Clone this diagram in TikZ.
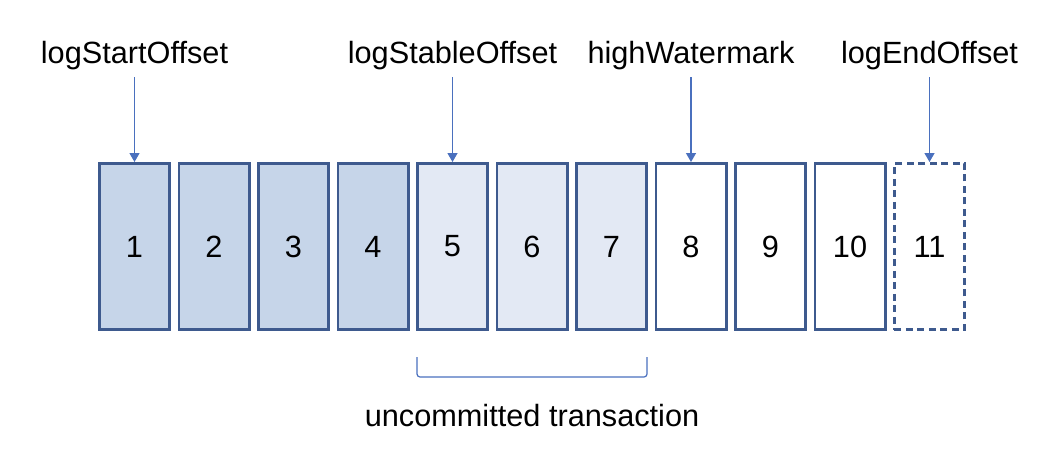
\documentclass[tikz,border=0pt]{standalone}
\usepackage{fontspec}
\setmainfont{Liberation Sans}
\usetikzlibrary{calc,arrows.meta}
\definecolor{edge}{HTML}{3E5A8E}
\definecolor{done}{HTML}{C6D5E9}
\definecolor{open}{HTML}{E3E9F4}
\definecolor{ptr}{HTML}{4A70BE}
\tikzset{
  cell/.style={draw=edge, line width=2.8pt, minimum width=70.2pt, minimum height=166.2pt, inner sep=0pt, font=\fontsize{30.7}{36}\selectfont},
  cellc/.style={cell, fill=done},
  cellu/.style={cell, fill=open},
  cellf/.style={cell, fill=white},
  celln/.style={cell, dash pattern=on 7pt off 4.5pt},
  lab/.style={font=\fontsize{30.7}{36}\selectfont, anchor=base, inner sep=0pt},
  ptrline/.style={draw=ptr, line width=1.3pt, shorten <=7.5pt, -{Triangle[length=9pt,width=10pt]}},
  brk/.style={draw=ptr, line width=1.2pt, rounded corners=3pt},
}

\begin{document}
\begin{tikzpicture}[x=1pt,y=-1pt]
  \useasboundingbox (0,0) rectangle (1064,456);
  \def\yc{246.5}

  % log segments
  \node[cellc] (b1)  at (134.5,\yc) {1};
  \node[cellc] (b2)  at (214,\yc)   {2};
  \node[cellc] (b3)  at (293.5,\yc) {3};
  \node[cellc] (b4)  at (373,\yc)   {4};
  \node[cellu] (b5)  at (452.5,\yc) {5};
  \node[cellu] (b6)  at (532,\yc)   {6};
  \node[cellu] (b7)  at (611.5,\yc) {7};
  \node[cellf] (b8)  at (691,\yc)   {8};
  \node[cellf] (b9)  at (770.5,\yc) {9};
  \node[cellf] (b10) at (850,\yc)   {10};
  \node[celln] (b11) at (929.5,\yc) {11};

  % offsets
  \node[lab] (lso) at (134.5,63) {logStartOffset};
  \node[lab] (lst) at (452.5,63) {logStableOffset};
  \node[lab] (hwm) at (691,63)   {highWatermark};
  \node[lab] (leo) at (929.5,63) {logEndOffset};

  \draw[ptrline] (lso.south -| b1.north) -- (b1.north);
  \draw[ptrline] (lst.south -| b5.north) -- (b5.north);
  \draw[ptrline] (hwm.south -| b8.north) -- (b8.north);
  \draw[ptrline] (leo.south -| b11.north) -- (b11.north);

  % transaction
  \draw[brk] ($(b5.south west)+(1,26)$) -- ($(b5.south west)+(1,46)$)
    -- ($(b7.south east)+(-1,46)$) -- ($(b7.south east)+(-1,26)$);
  \node[lab] (txn) at ($(b6.center)+(0,179.5)$) {uncommitted transaction};
\end{tikzpicture}
\end{document}
